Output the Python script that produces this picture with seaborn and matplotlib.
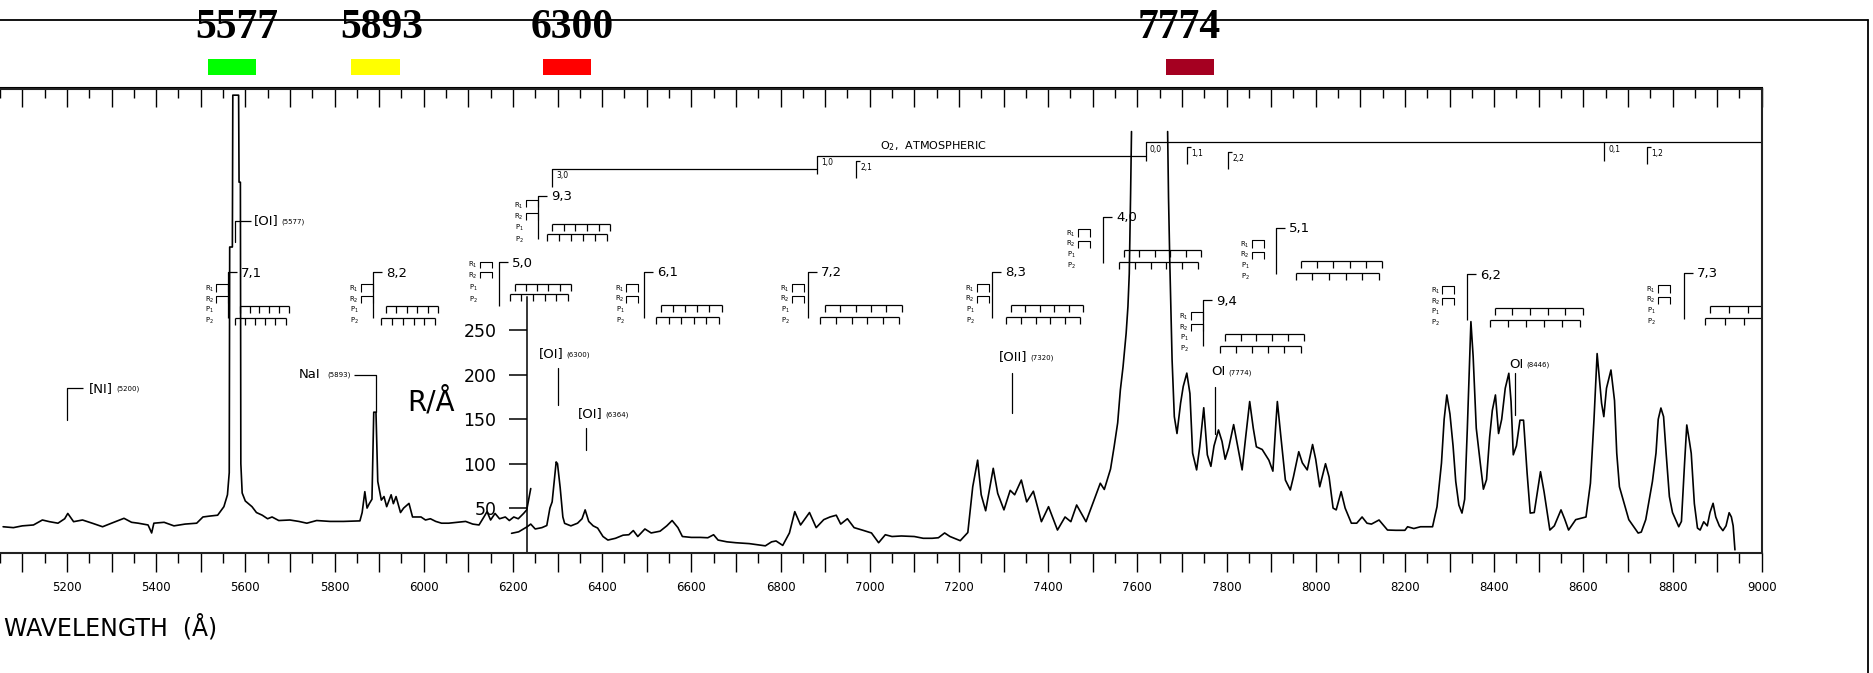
import numpy as np
import pandas as pd
import matplotlib
matplotlib.use("Agg")
import matplotlib.pyplot as plt
import matplotlib.transforms as mtransforms
from matplotlib.lines import Line2D
from matplotlib.patches import Rectangle
import seaborn as sns

# ---------------- night-sky spectrum (wavelength in Å, brightness in R/Å) ----------------
# blue-green scan, up to the inset brightness axis
spec_a = [
    (5057, 29), (5080, 28), (5100, 30), (5125, 31), (5145, 36.6), (5161, 34.7), (5180, 33),
    (5195, 38), (5202, 44), (5215, 34.7), (5235, 36.6), (5258, 32.8), (5280, 29), (5300, 33),
    (5328, 38.5), (5345, 34), (5360, 33), (5382, 31), (5390, 22), (5395, 33), (5418, 34),
    (5440, 30), (5465, 32), (5491, 33), (5505, 40), (5520, 41), (5538, 42), (5552, 51.6),
    (5560, 65), (5564, 90), (5565, 344), (5571, 344), (5572, 515), (5585, 515), (5586, 417),
    (5589, 417), (5590, 100), (5593, 67), (5600, 58), (5615, 51.6), (5625, 45), (5638, 42),
    (5650, 38), (5660, 40), (5675, 36), (5700, 36.6), (5720, 35), (5738, 33), (5760, 36),
    (5790, 35), (5820, 35), (5857, 35.6), (5862, 45), (5868, 68.5), (5873, 50), (5878, 55),
    (5884, 60), (5888, 158), (5893, 158), (5897, 80), (5905, 59), (5911, 63), (5917, 51.6),
    (5927, 65), (5932, 55), (5938, 63), (5948, 45), (5955, 50), (5967, 55.3), (5975, 40),
    (5982, 40), (5994, 40), (6004, 36.6), (6015, 38), (6027, 35), (6040, 33), (6056, 33),
    (6075, 34), (6094, 35), (6110, 32), (6124, 31), (6135, 40), (6142, 46), (6150, 36.6),
    (6160, 44), (6170, 38), (6183, 40), (6192, 36), (6202, 40), (6212, 38), (6224, 44),
    (6231, 48), (6240, 72),
]
# red scan, up to the O2 (0,0) band
spec_b1 = [
    (6197, 21.6), (6213, 23.3), (6232, 29), (6240, 32), (6250, 26.5), (6265, 28), (6276, 30.4),
    (6283, 50), (6288, 57), (6297, 102), (6300, 100), (6306, 73), (6312, 40), (6316, 32.8),
    (6330, 30), (6345, 33), (6355, 38), (6362, 48), (6370, 35), (6380, 30), (6390, 27.5),
    (6402, 18), (6413, 14), (6430, 16), (6447, 19.5), (6460, 20), (6470, 24.7), (6480, 18),
    (6496, 26.5), (6510, 22), (6530, 24), (6545, 30), (6557, 36), (6570, 28), (6580, 18),
    (6600, 17), (6620, 17), (6637, 16.6), (6650, 20), (6660, 14), (6680, 12), (6700, 11),
    (6730, 10), (6766, 7.5), (6780, 12), (6790, 13), (6805, 8), (6820, 22), (6832, 46),
    (6845, 31), (6865, 45), (6880, 28), (6897, 37), (6911, 40), (6925, 42), (6935, 32),
    (6950, 38), (6965, 28), (6985, 25), (7004, 22), (7020, 11), (7035, 20), (7050, 18),
    (7071, 18.6), (7100, 18), (7120, 16), (7140, 16), (7154, 16.6), (7168, 22), (7180, 18),
    (7203, 13.3), (7220, 22.5), (7231, 74), (7242, 104), (7250, 65), (7260, 47), (7277, 94.8),
    (7287, 66.6), (7301, 48), (7315, 70), (7325, 65), (7340, 81.6), (7352, 57), (7367, 69),
    (7385, 34.7), (7401, 51.6), (7421, 25.3), (7438, 40), (7451, 34.7), (7464, 53.5),
    (7485, 34.7), (7503, 59), (7517, 78), (7526, 71), (7540, 94), (7548, 119), (7556, 146),
    (7562, 183), (7568, 209), (7575, 247), (7579, 277), (7582, 314), (7585, 404), (7587, 474),
]
# near-infrared scan, from the O2 (0,0) band onwards
spec_b2 = [
    (7668, 474), (7670, 400), (7673, 324), (7678, 217), (7683, 153), (7689, 134), (7697, 168),
    (7703, 187), (7711, 202), (7718, 179), (7724, 112), (7733, 93), (7740, 119), (7749, 163),
    (7757, 110), (7765, 97), (7772, 120), (7782, 138), (7790, 125), (7797, 105), (7805, 118),
    (7816, 144), (7825, 120), (7835, 93), (7843, 130), (7852, 170), (7860, 140), (7867, 119),
    (7880, 116), (7895, 104), (7904, 91.6), (7910, 140), (7914, 170), (7922, 130), (7932, 81.6),
    (7943, 70.4), (7950, 85), (7962, 113.5), (7970, 101), (7981, 93), (7993, 121.6), (8000, 105),
    (8009, 74), (8022, 100), (8030, 85), (8039, 50), (8046, 48), (8057, 68.5), (8066, 50),
    (8080, 33), (8092, 33), (8104, 40), (8115, 33), (8125, 32), (8142, 36.6), (8161, 25.3),
    (8180, 25), (8200, 25), (8206, 29), (8220, 27), (8235, 29), (8262, 29), (8272, 51.6),
    (8282, 100.7), (8288, 150), (8294, 177.4), (8301, 156), (8308, 120), (8314, 80),
    (8321, 53.4), (8328, 44.4), (8334, 60), (8340, 140), (8348, 260), (8353, 221), (8360, 140),
    (8369, 100.7), (8376, 71.3), (8383, 82), (8390, 130), (8396, 160), (8403, 177.4),
    (8410, 134), (8417, 150), (8425, 185), (8433, 201.8), (8438, 170), (8443, 110), (8450, 120),
    (8458, 149), (8466, 149), (8474, 89.5), (8481, 44.4), (8490, 45), (8504, 91), (8512, 68.5),
    (8525, 25.3), (8535, 30), (8550, 48), (8558, 38), (8567, 25.3), (8583, 37), (8606, 40),
    (8616, 78), (8624, 150), (8631, 224), (8641, 168), (8646, 153), (8652, 185), (8662, 205.5),
    (8670, 171), (8675, 111.7), (8681, 74), (8702, 37), (8723, 21.9), (8730, 23), (8740, 37),
    (8755, 80), (8763, 112), (8768, 150), (8774, 162.7), (8780, 153), (8786, 110), (8793, 63),
    (8800, 45), (8814, 29), (8820, 35), (8827, 100), (8832, 143.6), (8838, 125), (8842, 111.7),
    (8849, 55), (8856, 27.5), (8862, 25.3), (8870, 34.6), (8878, 30), (8884, 45), (8891, 55.4),
    (8897, 40), (8905, 30), (8913, 24.6), (8920, 30), (8927, 44.8), (8932, 40), (8936, 30),
    (8940, 3),
]

# highlighted emission lines shown above the frame
top_lines = ["5577", "5893", "6300", "7774"]
top_colors = ["#00ff00", "#ffff00", "#ff0000", "#a50021"]

# OH Meinel bands: head wavelength, marker height, P-branch extent
band_names = ["7,1", "8,2", "5,0", "9,3", "6,1", "7,2", "8,3", "4,0", "9,4", "5,1", "6,2", "7,3"]
band_head = [5562, 5886, 6168, 6256, 6495, 6861, 7274, 7523, 7747, 7911, 8340, 8825]
band_level = [315.5, 315.5, 326.8, 401.8, 316.2, 316, 316, 378.2, 284.3, 365.8, 313.6, 315.1]
band_p_start = [5588, 5915, 6204, 6288, 6532, 6900, 7317, 7570, 7796, 7966, 8401, 8884]
band_p_end = [5697, 6033, 6330, 6418, 6668, 7072, 7478, 7743, 7973, 8149, 8599, 9100]

# O2 atmospheric band heads
o2_names = ["3,0", "1,0", "2,1", "0,0", "1,1", "2,2", "0,1", "1,2"]
o2_head = [6288, 6882, 6970, 7619, 7711, 7804, 8647, 8743]
o2_level = [431.9, 446.8, 440.9, 461.9, 457.0, 451.4, 461.9, 457.0]

# atomic emission lines
em_names = ["[NI]", "[OI]", "NaI", "[OI]", "[OI]", "[OII]", "OI", "OI"]
em_wl = [5200, 5577, 5893, 6300, 6364, 7320, 7774, 8446]
em_top = [185, 373.6, 200, 207.8, 140, 202.5, 186.7, 202]
em_bot = [149, 350, 158.6, 166, 115, 156.8, 134, 155]

# ---------------- layout helpers (pixel offsets, not data) ----------------
top_text_at = [5580, 5905, 6332, 7693]
top_bar_at = [5570, 5892, 6321, 7719]
band_layout = ["std", "std", "tight", "mid", "std", "std", "std", "std", "std", "std", "std", "std"]
band_r_shift = [0, 0, 7, 0, 6, 4, 3, 13, 0, 12, 13, 14]
layouts = {
    "std": dict(vline=46, rows=[17, 27.5, 38, 49], brk=[(12, 8), (24, 7)], combs=[33.5, 45.5]),
    "tight": dict(vline=44, rows=[3, 13.5, 25.5, 37.5], brk=[(0, 6), (9.5, 6)], combs=[21.7, 31.7]),
    "mid": dict(vline=43.6, rows=[10.3, 21.3, 32.3, 44.3], brk=[(4.3, 7), (17.6, 7)], combs=[28.3, 38.6]),
}
o2_on_main = [True, True, False, True, False, False, True, False]
em_style = ["corner", "corner", "left", "above", "above", "above", "above", "above"]
em_text_off = [(22, 0), (19, 0), (-56, 0), (-18.6, -14), (-8.4, -14.7), (-14, -16), (-3.6, -15), (-5, -9)]

# ---------------- figure ----------------
sns.set_style("white", rc={"axes.edgecolor": "black", "text.color": "black",
                           "xtick.color": "black", "ytick.color": "black",
                           "axes.labelcolor": "black"})
plt.rcParams["font.family"] = ["DejaVu Sans"]
plt.rcParams["mathtext.default"] = "regular"

W, H, DPI = 1873, 673, 100
fig = plt.figure(figsize=(W / DPI, H / DPI), dpi=DPI)
fig.patch.set_facecolor("white")

ax_right_px, ax_top_px, ax_bot_px = 1761.7, 88.5, 552.5
ax = fig.add_axes([0, 1 - ax_bot_px / H, ax_right_px / W, (ax_bot_px - ax_top_px) / H])
ax.set_facecolor("white")
ax.set_xlim(5056.8, 9000)
ax.set_ylim(0, 522.5)

frames = [pd.DataFrame(seg, columns=["wl", "r"]).assign(seg=i)
          for i, seg in enumerate([spec_a, spec_b1, spec_b2])]
df = pd.concat(frames, ignore_index=True)
sns.lineplot(data=df, x="wl", y="r", units="seg", estimator=None, sort=False,
             color="black", lw=1.2, ax=ax, legend=False)

# frame and axes
for s in ["top", "bottom", "right"]:
    ax.spines[s].set_linewidth(1.5)
    ax.spines[s].set_color("#222222")
ax.spines["left"].set_position(("data", 6232))
ax.spines["left"].set_bounds(0, 288)
ax.spines["left"].set_linewidth(1.1)

major = np.arange(5100, 9001, 100)
minor = np.arange(5050, 9000, 100)
ax.set_xticks(major)
ax.set_xticks(minor, minor=True)
ax.set_xticklabels([str(t) if t % 200 == 0 else "" for t in major])
ax.tick_params(axis="x", which="major", direction="out", length=13.7, width=1.0,
               labelsize=8.5, pad=7, bottom=True)
ax.tick_params(axis="x", which="minor", direction="out", length=7, width=1.0, bottom=True)

top = ax.secondary_xaxis("top")
top.set_xticks(major)
top.set_xticks(minor, minor=True)
top.set_xticklabels([])
top.tick_params(which="major", direction="in", length=13.7, width=1.0)
top.tick_params(which="minor", direction="in", length=7, width=1.0)
top.spines["top"].set_linewidth(1.5)

ax.set_yticks([50, 100, 150, 200, 250])
ax.tick_params(axis="y", direction="out", length=13, width=1.1, labelsize=12.5, pad=9,
               left=True, right=False)
ax.set_ylabel("R/Å", rotation=0, fontsize=20, ha="center", va="center")
ax.yaxis.set_label_coords(430.5 / ax_right_px, (ax_bot_px - 401.7) / (ax_bot_px - ax_top_px))
ax.set_xlabel("WAVELENGTH  (Å)", fontsize=17, ha="left", va="center")
ax.xaxis.set_label_coords(4 / ax_right_px, (ax_bot_px - 627) / (ax_bot_px - ax_top_px))

# outer frame
fig.add_artist(Line2D([0, 1868 / W], [1 - 20 / H, 1 - 20 / H], color="black", lw=1.3))
fig.add_artist(Line2D([1868 / W, 1868 / W], [1 - 20 / H, 0], color="black", lw=1.3))

# highlighted lines above the frame
blend = mtransforms.blended_transform_factory(ax.transData, fig.transFigure)
for lab, tx, bx, col in zip(top_lines, top_text_at, top_bar_at, top_colors):
    ax.text(tx, 1 - 38 / H, lab, transform=blend, ha="center", va="baseline",
            fontsize=30, fontweight="bold", family="Liberation Serif", clip_on=False)
    ax.add_patch(Rectangle((bx - 54, 1 - 75 / H), 108, 16 / H, transform=blend,
                           facecolor=col, edgecolor="none", clip_on=False))

# ---------------- annotation helpers ----------------
to_px = ax.transData.transform
to_data = ax.transData.inverted().transform


def offs(lam, val, pts):
    bx, by = to_px((lam, val))
    return to_data(np.array([(bx + dx, by - dy) for dx, dy in pts]))


def draw(lam, val, pts, lw=0.9):
    d = offs(lam, val, pts)
    ax.plot(d[:, 0], d[:, 1], color="black", lw=lw, solid_capstyle="butt")


def put(lam, val, dx, dy, s, size, ha="left", va="center"):
    x, y = offs(lam, val, [(dx, dy)])[0]
    return ax.text(x, y, s, fontsize=size, ha=ha, va=va)


def px_between(l0, l1, val):
    return to_px((l1, val))[0] - to_px((l0, val))[0]


def comb(lam, val, x0, x1, dy, n=6):
    draw(lam, val, [(x0, dy), (x1, dy)])
    for t in np.linspace(x0, x1, n):
        draw(lam, val, [(t, dy), (t, dy + 7)])


# OH bands
for name, head, lev, ps, pe, lay, rs in zip(band_names, band_head, band_level, band_p_start,
                                            band_p_end, band_layout, band_r_shift):
    L = layouts[lay]
    draw(head, lev, [(9, 0), (0, 0), (0, L["vline"])])
    put(head, lev, 13, 1, name, 9.5)
    for (bt, bl) in L["brk"]:
        draw(head, lev, [(-rs - 12, bt + bl), (-rs - 12, bt), (-rs, bt), (-rs, bt + bl)], lw=0.8)
    for lab, ry in zip([r"R$_1$", r"R$_2$", r"P$_1$", r"P$_2$"], L["rows"]):
        put(head, lev, -rs - 14, ry, lab, 5, ha="right")
    x0 = px_between(head, ps, lev)
    x1 = px_between(head, pe, lev)
    comb(head, lev, x0, x1, L["combs"][0])
    comb(head, lev, x0 - 5, x1 - 3, L["combs"][1])

# O2 atmospheric system
main_idx = [i for i, m in enumerate(o2_on_main) if m]
steps = [i for i in main_idx if o2_names[i] != "0,1"]
for a, b in zip(steps[:-1], steps[1:]):
    ax.plot([o2_head[a], o2_head[b]], [o2_level[a]] * 2, color="black", lw=0.9)
ax.plot([o2_head[steps[-1]], 9000], [o2_level[steps[-1]]] * 2, color="black", lw=0.9)
for name, head, lev, on in zip(o2_names, o2_head, o2_level, o2_on_main):
    if on:
        draw(head, lev, [(0, 0), (0, 18.5)])
    else:
        draw(head, lev, [(4, 0), (0, 0), (0, 17)])
    put(head, lev, 4, 7, name, 5.5)
ax.text(7023, 458, r"O$_2$,  ATMOSPHERIC", fontsize=8, ha="left", va="center")

# atomic lines
fig.canvas.draw()
renderer = fig.canvas.get_renderer()
for name, wl, t, b, sty, (tdx, tdy) in zip(em_names, em_wl, em_top, em_bot, em_style, em_text_off):
    ax.plot([wl, wl], [t, b], color="black", lw=0.9)
    sub = f"({wl})"
    if sty == "corner":
        draw(wl, t, [(0, 0), (16, 0)])
        txt = put(wl, t, tdx, tdy, name, 9.5)
        w = txt.get_window_extent(renderer).width
        put(wl, t, tdx + w + 3, tdy + 1, sub, 5)
    elif sty == "left":
        draw(wl, t, [(0, 0), (-21.5, 0)])
        put(wl, t, -25, 0, sub, 5, ha="right")
        put(wl, t, tdx, 0, name, 9.5, ha="right")
    else:
        txt = put(wl, t, tdx, tdy, name, 9.5)
        w = txt.get_window_extent(renderer).width
        put(wl, t, tdx + w + 3, tdy + 1, sub, 5)

fig.savefig("out.png", dpi=DPI, facecolor="white")
